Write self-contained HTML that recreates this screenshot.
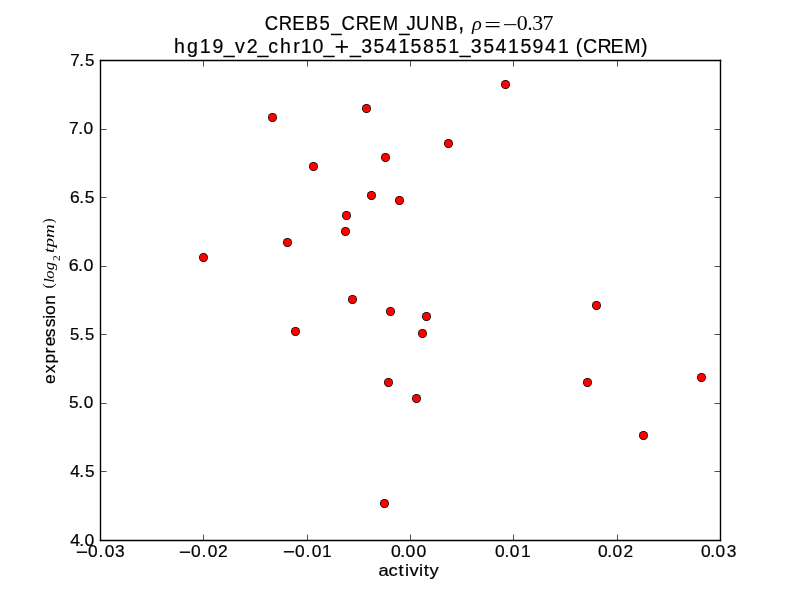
<!DOCTYPE html>
<html lang="en"><head><meta charset="utf-8"><title>CREB5_CREM_JUNB activity vs expression</title>
<style>
html,body{margin:0;padding:0;background:#ffffff;overflow:hidden}
svg{display:block}
text{fill:#000;white-space:pre}
.s{font-family:"Liberation Sans",sans-serif}
.r{font-family:"Liberation Serif",serif}
.i{font-family:"Liberation Serif",serif;font-style:italic}
</style></head>
<body>
<svg width="800" height="600" viewBox="0 0 800 600">
<rect x="0" y="0" width="800" height="600" fill="#ffffff"/>
<g><circle cx="203.5" cy="257.5" r="4.5" fill="#000000"/><circle cx="203.5" cy="257.5" r="3.75" fill="#ff0000"/>
<circle cx="272.5" cy="117.5" r="4.5" fill="#000000"/><circle cx="272.5" cy="117.5" r="3.75" fill="#ff0000"/>
<circle cx="287.5" cy="242.5" r="4.5" fill="#000000"/><circle cx="287.5" cy="242.5" r="3.75" fill="#ff0000"/>
<circle cx="295.5" cy="331.5" r="4.5" fill="#000000"/><circle cx="295.5" cy="331.5" r="3.75" fill="#ff0000"/>
<circle cx="313.5" cy="166.5" r="4.5" fill="#000000"/><circle cx="313.5" cy="166.5" r="3.75" fill="#ff0000"/>
<circle cx="345.5" cy="231.5" r="4.5" fill="#000000"/><circle cx="345.5" cy="231.5" r="3.75" fill="#ff0000"/>
<circle cx="346.5" cy="215.5" r="4.5" fill="#000000"/><circle cx="346.5" cy="215.5" r="3.75" fill="#ff0000"/>
<circle cx="352.5" cy="299.5" r="4.5" fill="#000000"/><circle cx="352.5" cy="299.5" r="3.75" fill="#ff0000"/>
<circle cx="366.5" cy="108.5" r="4.5" fill="#000000"/><circle cx="366.5" cy="108.5" r="3.75" fill="#ff0000"/>
<circle cx="371.5" cy="195.5" r="4.5" fill="#000000"/><circle cx="371.5" cy="195.5" r="3.75" fill="#ff0000"/>
<circle cx="385.5" cy="157.5" r="4.5" fill="#000000"/><circle cx="385.5" cy="157.5" r="3.75" fill="#ff0000"/>
<circle cx="399.5" cy="200.5" r="4.5" fill="#000000"/><circle cx="399.5" cy="200.5" r="3.75" fill="#ff0000"/>
<circle cx="390.5" cy="311.5" r="4.5" fill="#000000"/><circle cx="390.5" cy="311.5" r="3.75" fill="#ff0000"/>
<circle cx="388.5" cy="382.5" r="4.5" fill="#000000"/><circle cx="388.5" cy="382.5" r="3.75" fill="#ff0000"/>
<circle cx="384.5" cy="503.5" r="4.5" fill="#000000"/><circle cx="384.5" cy="503.5" r="3.75" fill="#ff0000"/>
<circle cx="426.5" cy="316.5" r="4.5" fill="#000000"/><circle cx="426.5" cy="316.5" r="3.75" fill="#ff0000"/>
<circle cx="422.5" cy="333.5" r="4.5" fill="#000000"/><circle cx="422.5" cy="333.5" r="3.75" fill="#ff0000"/>
<circle cx="416.5" cy="398.5" r="4.5" fill="#000000"/><circle cx="416.5" cy="398.5" r="3.75" fill="#ff0000"/>
<circle cx="448.5" cy="143.5" r="4.5" fill="#000000"/><circle cx="448.5" cy="143.5" r="3.75" fill="#ff0000"/>
<circle cx="505.5" cy="84.5" r="4.5" fill="#000000"/><circle cx="505.5" cy="84.5" r="3.75" fill="#ff0000"/>
<circle cx="596.5" cy="305.5" r="4.5" fill="#000000"/><circle cx="596.5" cy="305.5" r="3.75" fill="#ff0000"/>
<circle cx="587.5" cy="382.5" r="4.5" fill="#000000"/><circle cx="587.5" cy="382.5" r="3.75" fill="#ff0000"/>
<circle cx="643.5" cy="435.5" r="4.5" fill="#000000"/><circle cx="643.5" cy="435.5" r="3.75" fill="#ff0000"/>
<circle cx="701.5" cy="377.5" r="4.5" fill="#000000"/><circle cx="701.5" cy="377.5" r="3.75" fill="#ff0000"/></g>
<path d="M101 129.5 H106.5 M714.5 129.5 H720 M101 197.5 H106.5 M714.5 197.5 H720 M101 266.5 H106.5 M714.5 266.5 H720 M101 334.5 H106.5 M714.5 334.5 H720 M101 403.5 H106.5 M714.5 403.5 H720 M101 471.5 H106.5 M714.5 471.5 H720 M203.5 61 V66.5 M203.5 534.5 V540 M307.5 61 V66.5 M307.5 534.5 V540 M410.5 61 V66.5 M410.5 534.5 V540 M513.5 61 V66.5 M513.5 534.5 V540 M617.5 61 V66.5 M617.5 534.5 V540" fill="none" stroke="#000" stroke-width="0.694"/>
<path d="M100.5 60.5 V540.5 M720.5 60.5 V540.5" fill="none" stroke="#000" stroke-width="1.389" stroke-linecap="square"/>
<path d="M100.5 60.5 H720.5 M100.5 540.5 H720.5" fill="none" stroke="#000" stroke-width="1.389" stroke-linecap="square"/>
<g style="mix-blend-mode:multiply">
<text class="s" font-size="20.35" stroke="#000" stroke-width="0.2" transform="translate(0,30) scale(0.9100,1)" x="290.88 306.45 321.23 335.97 351.2 363.95 375.26 390.96 405.57 420.63 438.79 446.78 457.04 473.23 489.38 503.44" y="0 0 0 0 0 0.6 0 0 0 0 0.6 0 0 0 0 0">CREB5_CREM_JUNB<tspan font-size="25">,</tspan></text>
<text class="i" font-size="19.3" transform="translate(0,30) scale(1.0633,1)" x="443.91" y="0">ρ</text>
<text class="r" font-size="21.5" transform="translate(0,31.9) scale(1.3794,1)" x="350.98" y="0">=</text>
<text class="r" font-size="21.5" transform="translate(0,32.1) scale(1.2244,1)" x="410.55" y="0">−</text>
<text class="r" font-size="21.5" transform="translate(0,30) scale(1.0206,1)" x="506.29 516.71 521.43 531.53" y="0">0.37</text>
<text class="s" font-size="20.35" stroke="#000" stroke-width="0.2" transform="translate(0,53) scale(0.9640,1)" x="180.5 194.06 207.26 220.43 232.05 243.86 256.06 267.05 278.2 290.46 304.09 312.02 324.27 335.52 346.92 363.01 374.71 387.55 400.23 413.42 425.93 438.75 451.96 465.03 476.85 488.39 501.24 513.92 526.9 539.88 552.47 565.42 578.77 590.08 597.37 604.73 619.85 633.38 647.49 664.9" y="0 0 0 0 -0.2 0 0 -0.2 0 0 0 0 0 -0.2 2.29 -0.2 0 0 0 0 0 0 0 0 -0.2 0 0 0 0 0 0 0 0 0 0 0 0 0 0 0">hg19_v2_chr10_<tspan font-size="26.04" stroke="none">+</tspan>_35415851_35415941 (CREM)</text>
<text class="s" font-size="17.2" stroke="#000" stroke-width="0.22" transform="translate(55.1,0) rotate(-90) scale(1.0184,1)" x="-377.15 -366.58 -356.98 -347.04 -339.94 -331.28 -321.46 -313.04 -309.36 -299.36" y="0">expression</text>
<text class="r" font-size="14.7" transform="translate(53.3,0) rotate(-90) scale(1.0992,1)" x="-262.56" y="0">(</text>
<text class="i" font-size="14.3" transform="translate(54,0) rotate(-90) scale(1.1526,1)" x="-245.3 -241.79 -234.53" y="0">log</text>
<text class="r" font-size="10" transform="translate(59.5,0) rotate(-90) scale(1.1475,1)" x="-227.37" y="0">2</text>
<text class="i" font-size="14.3" transform="translate(54,0) rotate(-90) scale(1.3385,1)" x="-188.99 -184.86 -177.81" y="0">tpm</text>
<text class="r" font-size="14.7" transform="translate(53.3,0) rotate(-90) scale(0.9800,1)" x="-227.72" y="0">)</text>
<text class="s" font-size="17.2" stroke="#000" stroke-width="0.22" transform="translate(0,66) scale(0.9875,1)" x="71.06 80.25 86.05" y="0">7.5</text>
<text class="s" font-size="17.2" stroke="#000" stroke-width="0.22" transform="translate(0,134) scale(1.0141,1)" x="68.09 77.1 82.43" y="0">7.0</text>
<text class="s" font-size="17.2" stroke="#000" stroke-width="0.22" transform="translate(0,203) scale(1.0135,1)" x="69.1 78.13 83.72" y="0">6.5</text>
<text class="s" font-size="17.2" stroke="#000" stroke-width="0.22" transform="translate(0,271) scale(1.0399,1)" x="66.12 75.13 80.27" y="0">6.0</text>
<text class="s" font-size="17.2" stroke="#000" stroke-width="0.22" transform="translate(0,340) scale(0.9717,1)" x="72.09 81.59 87.52" y="0">5.5</text>
<text class="s" font-size="17.2" stroke="#000" stroke-width="0.22" transform="translate(0,408) scale(0.9979,1)" x="69.07 78.39 83.85" y="0">5.0</text>
<text class="s" font-size="17.2" stroke="#000" stroke-width="0.22" transform="translate(0,477) scale(0.9985,1)" x="70.31 79.34 85.04" y="0">4.5</text>
<text class="s" font-size="17.2" stroke="#000" stroke-width="0.22" transform="translate(0,546) scale(1.0239,1)" x="68.55 77.31 82.58" y="0">4.0</text>
<text class="s" font-size="17.2" stroke="#000" stroke-width="0.22" transform="translate(0,557) scale(1.0106,1)" x="74.91 87.05 97.41 103.67 113.91" y="1.71 0 0 0 0"><tspan font-size="21.07" stroke="none">−</tspan>0.03</text>
<text class="s" font-size="17.2" stroke="#000" stroke-width="0.22" transform="translate(0,557) scale(1.0120,1)" x="176.58 188.69 199.05 205.29 215.33" y="1.7 0 0 0 0"><tspan font-size="21.04" stroke="none">−</tspan>0.02</text>
<text class="s" font-size="17.2" stroke="#000" stroke-width="0.22" transform="translate(0,557) scale(1.0099,1)" x="279.94 292.09 302.46 308.72 318.8" y="1.71 0 0 0 0"><tspan font-size="21.09" stroke="none">−</tspan>0.01</text>
<text class="s" font-size="17.2" stroke="#000" stroke-width="0.22" transform="translate(0,557) scale(1.0232,1)" x="382.06 391.25 396.23 407.13" y="0">0.00</text>
<text class="s" font-size="17.2" stroke="#000" stroke-width="0.22" transform="translate(0,557) scale(1.0099,1)" x="490.28 499.62 504.79 515.86" y="0">0.01</text>
<text class="s" font-size="17.2" stroke="#000" stroke-width="0.22" transform="translate(0,557) scale(1.0120,1)" x="590.85 600.12 605.18 616.11" y="0">0.02</text>
<text class="s" font-size="17.2" stroke="#000" stroke-width="0.22" transform="translate(0,557) scale(1.0106,1)" x="693.63 702.91 707.98 719.01" y="0">0.03</text>
<text class="s" font-size="17.2" stroke="#000" stroke-width="0.22" transform="translate(0,575.8) scale(1.0695,1)" x="354 363.31 372.61 378.58 382.88 391.77 396.13 401.57" y="0">activity</text>
</g>
</svg>
</body></html>
